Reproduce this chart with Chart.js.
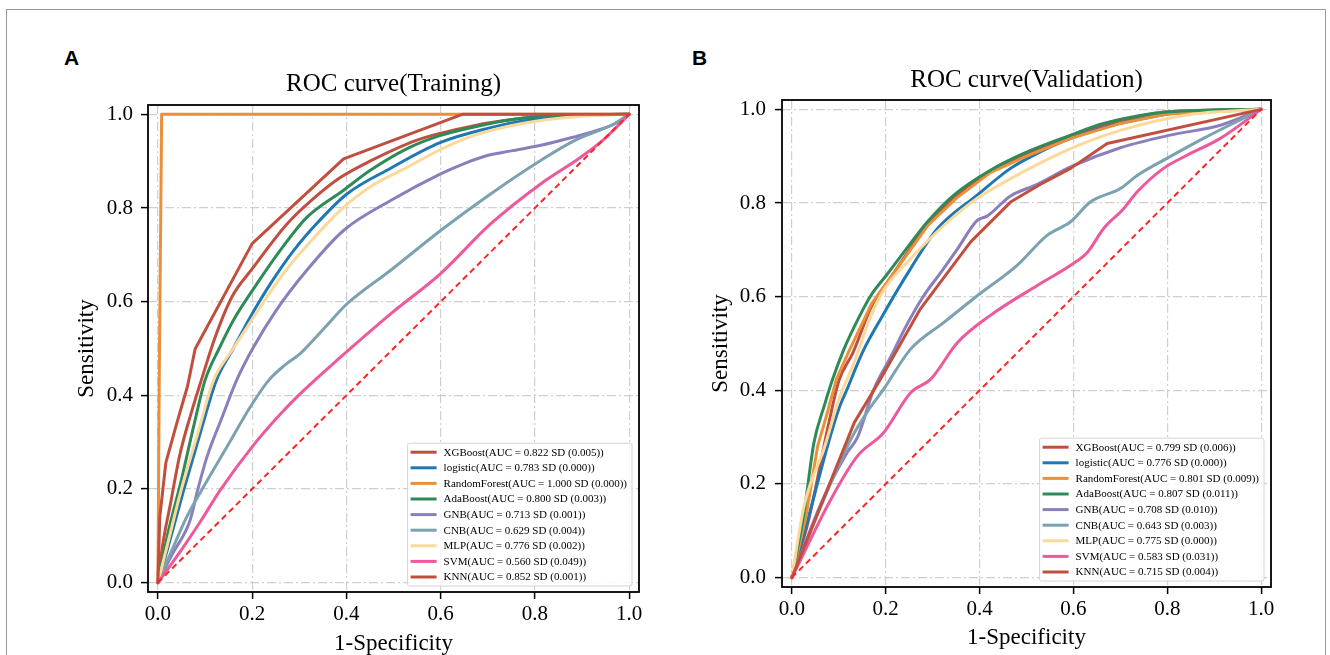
<!DOCTYPE html>
<html><head><meta charset="utf-8">
<script src="https://cdn.jsdelivr.net/npm/chart.js@4.4.1/dist/chart.umd.min.js"></script>
<style>
html,body{margin:0;padding:0;background:#fff;width:1330px;height:655px;overflow:hidden;}
#frame{position:absolute;left:6px;top:9px;width:1320px;height:720px;border:1.5px solid #9a9a9a;box-sizing:border-box;}
canvas{position:absolute;top:0;}
.tag{position:absolute;font-family:'Liberation Sans',Arial,sans-serif;font-weight:bold;font-size:21px;line-height:24px;color:#000;}
</style></head><body>
<div id="frame"></div>
<div class="tag" style="left:64px;top:46px">A</div>
<div class="tag" style="left:692px;top:46px">B</div>
<canvas id="cA" width="665" height="655" style="left:0"></canvas>
<canvas id="cB" width="665" height="655" style="left:665px"></canvas>
<script>
// ---------- data ----------
const tickValues = [0, 0.2, 0.4, 0.6, 0.8, 1.0];
const modelNames = ['XGBoost','logistic','RandomForest','AdaBoost','GNB','CNB','MLP','SVM','KNN'];
const trainAUC = [0.822, 0.783, 1.000, 0.800, 0.713, 0.629, 0.776, 0.560, 0.852];
const trainSD  = [0.005, 0.000, 0.000, 0.003, 0.001, 0.004, 0.002, 0.049, 0.001];
const valAUC   = [0.799, 0.776, 0.801, 0.807, 0.708, 0.643, 0.775, 0.583, 0.715];
const valSD    = [0.006, 0.000, 0.009, 0.011, 0.010, 0.003, 0.000, 0.031, 0.004];
const chanceLine = [[0,0],[1,1]];

// Training ROC points [1-specificity, sensitivity]
const trainXGBoost = [[0,0],[0.01,0.08],[0.026,0.165],[0.047,0.275],[0.07,0.36],[0.092,0.432],[0.12,0.52],[0.157,0.61],[0.2,0.67],[0.274,0.766],[0.33,0.82],[0.387,0.865],[0.45,0.9],[0.55,0.945],[0.671,0.976],[0.76,0.99],[0.85,0.998],[1,1]];
const trainLogistic = [[0,0],[0.02,0.07],[0.054,0.195],[0.09,0.32],[0.124,0.432],[0.16,0.5],[0.196,0.567],[0.24,0.64],[0.288,0.709],[0.34,0.77],[0.401,0.83],[0.494,0.885],[0.6,0.94],[0.7,0.97],[0.8,0.99],[0.883,0.998],[1,1]];
const trainRandomForest = [[0,0],[0.003,0.45],[0.008,1.0],[1,1]];
const trainAdaBoost = [[0,0],[0.02,0.1],[0.05,0.22],[0.075,0.33],[0.1,0.432],[0.13,0.5],[0.16,0.56],[0.21,0.638],[0.26,0.71],[0.316,0.78],[0.394,0.838],[0.45,0.88],[0.529,0.927],[0.6,0.955],[0.671,0.973],[0.76,0.99],[0.85,0.998],[1,1]];
const trainGNB = [[0,0],[0.03,0.06],[0.068,0.132],[0.085,0.2],[0.104,0.268],[0.135,0.35],[0.167,0.432],[0.203,0.503],[0.25,0.58],[0.316,0.667],[0.394,0.752],[0.494,0.816],[0.6,0.873],[0.65,0.895],[0.699,0.912],[0.75,0.922],[0.813,0.934],[0.884,0.952],[0.93,0.965],[0.969,0.98],[1,1]];
const trainCNB = [[0,0],[0.03,0.07],[0.061,0.14],[0.1,0.21],[0.146,0.289],[0.196,0.375],[0.235,0.432],[0.27,0.465],[0.302,0.489],[0.35,0.54],[0.401,0.595],[0.494,0.667],[0.6,0.752],[0.706,0.83],[0.813,0.902],[0.884,0.944],[0.969,0.98],[1,1]];
const trainMLP = [[0,0],[0.02,0.08],[0.05,0.2],[0.085,0.32],[0.118,0.432],[0.16,0.5],[0.217,0.588],[0.27,0.665],[0.33,0.735],[0.387,0.795],[0.45,0.845],[0.529,0.887],[0.6,0.925],[0.671,0.955],[0.77,0.98],[0.883,0.995],[1,1]];
const trainSVM = [[0,0],[0.05,0.07],[0.09,0.13],[0.132,0.197],[0.2,0.29],[0.26,0.36],[0.309,0.41],[0.387,0.481],[0.494,0.574],[0.6,0.66],[0.706,0.766],[0.813,0.852],[0.898,0.909],[0.95,0.95],[1,1]];
const trainKNN = [[0,0],[0.004,0.14],[0.017,0.257],[0.04,0.34],[0.063,0.42],[0.079,0.499],[0.2,0.724],[0.394,0.905],[0.646,1.0],[1,1]];

// Validation ROC points
const valXGBoost = [[0,0],[0.035,0.12],[0.076,0.317],[0.1,0.42],[0.13,0.48],[0.17,0.58],[0.21,0.64],[0.29,0.755],[0.35,0.815],[0.423,0.868],[0.5,0.905],[0.6,0.945],[0.7,0.975],[0.8,0.995],[1,1]];
const valLogistic = [[0,0],[0.04,0.146],[0.076,0.281],[0.1,0.36],[0.118,0.403],[0.15,0.48],[0.189,0.552],[0.253,0.66],[0.31,0.745],[0.395,0.817],[0.466,0.874],[0.523,0.906],[0.594,0.938],[0.7,0.97],[0.842,0.995],[1,1]];
const valRandomForest = [[0,0],[0.03,0.13],[0.055,0.281],[0.075,0.35],[0.095,0.424],[0.12,0.48],[0.17,0.585],[0.21,0.64],[0.29,0.752],[0.35,0.81],[0.423,0.865],[0.5,0.9],[0.6,0.94],[0.7,0.97],[0.8,0.99],[1,1]];
const valAdaBoost = [[0,0],[0.026,0.139],[0.047,0.288],[0.07,0.37],[0.087,0.424],[0.111,0.488],[0.14,0.55],[0.168,0.602],[0.204,0.649],[0.25,0.71],[0.289,0.76],[0.345,0.817],[0.423,0.87],[0.494,0.906],[0.594,0.945],[0.664,0.97],[0.806,0.995],[1,1]];
const valGNB = [[0,0],[0.069,0.174],[0.118,0.267],[0.14,0.3],[0.175,0.403],[0.21,0.47],[0.245,0.54],[0.281,0.602],[0.32,0.655],[0.353,0.702],[0.395,0.763],[0.416,0.772],[0.466,0.815],[0.523,0.84],[0.594,0.877],[0.7,0.918],[0.806,0.945],[0.913,0.966],[1,1]];
const valCNB = [[0,0],[0.062,0.153],[0.126,0.296],[0.16,0.353],[0.196,0.403],[0.253,0.488],[0.324,0.545],[0.395,0.602],[0.48,0.667],[0.544,0.731],[0.594,0.76],[0.636,0.802],[0.7,0.831],[0.736,0.859],[0.806,0.899],[0.877,0.938],[0.948,0.974],[1,1]];
const valMLP = [[0,0],[0.026,0.153],[0.07,0.28],[0.1,0.38],[0.133,0.46],[0.165,0.55],[0.196,0.614],[0.253,0.681],[0.324,0.752],[0.395,0.81],[0.494,0.867],[0.594,0.916],[0.7,0.955],[0.842,0.988],[1,1]];
const valSVM = [[0,0],[0.083,0.167],[0.14,0.26],[0.196,0.31],[0.253,0.395],[0.296,0.424],[0.353,0.502],[0.423,0.56],[0.523,0.624],[0.594,0.667],[0.63,0.695],[0.664,0.745],[0.707,0.788],[0.736,0.824],[0.792,0.874],[0.842,0.902],[0.913,0.938],[1,1]];
const valKNN = [[0,0],[0.133,0.331],[0.189,0.424],[0.274,0.574],[0.381,0.717],[0.466,0.802],[0.53,0.84],[0.594,0.874],[0.672,0.927],[1,1]];

// ---------- styles ----------
const COLORS = ['#c14f3f','#1f78b4','#e8913a','#2e8b57','#8a7fbd','#7ba2b0','#fbd99a','#ec5a9b','#c14f3f'];
const SMOOTH = [true, true, false, true, true, true, true, true, false];
const SERIF = "'Liberation Serif','Times New Roman',serif";

const trainSeries = [trainXGBoost,trainLogistic,trainRandomForest,trainAdaBoost,trainGNB,trainCNB,trainMLP,trainSVM,trainKNN];
const valSeries = [valXGBoost,valLogistic,valRandomForest,valAdaBoost,valGNB,valCNB,valMLP,valSVM,valKNN];

function labelsFor(auc, sd){
  return modelNames.map((m,i)=> m + '(AUC = ' + auc[i].toFixed(3) + ' SD (' + sd[i].toFixed(3) + '))');
}

const frameLegend = {
  id:'frameLegend',
  afterDraw(chart){
    const ctx = chart.ctx, ca = chart.chartArea;
    ctx.save();
    ctx.font = '11px ' + SERIF;
    const items = chart.data.datasets.filter(d=>!d.label.startsWith('_'));
    const rowH = 15.6, padX = 3, lineW = 26, gap = 7, padR = 5, padTop = 9;
    const textW = Math.max(...items.map(d=>ctx.measureText(d.label).width));
    const w = padX + lineW + gap + textW + padR;
    const h = (items.length-1)*rowH + 2*padTop;
    const x0 = ca.right - 7 - w, y0 = ca.bottom - 6 - h;
    ctx.beginPath();
    if (ctx.roundRect) ctx.roundRect(x0, y0, w, h, 2); else ctx.rect(x0,y0,w,h);
    ctx.fillStyle = 'rgba(255,255,255,0.85)';
    ctx.fill();
    ctx.lineWidth = 1; ctx.strokeStyle = '#d4d4d4'; ctx.stroke();
    items.forEach((d,i)=>{
      const cy = y0 + padTop + i*rowH;
      ctx.beginPath();
      ctx.moveTo(x0+padX, cy); ctx.lineTo(x0+padX+lineW, cy);
      ctx.lineWidth = 3; ctx.strokeStyle = d.borderColor; ctx.setLineDash([]); ctx.stroke();
      ctx.fillStyle = '#000'; ctx.textBaseline = 'middle'; ctx.textAlign = 'left';
      ctx.fillText(d.label, x0+padX+lineW+gap, cy+0.5);
    });
    ctx.lineWidth = 1.8; ctx.strokeStyle = '#000'; ctx.setLineDash([]);
    ctx.strokeRect(ca.left, ca.top, ca.right-ca.left, ca.bottom-ca.top);
    ctx.restore();
  }
};

function axis(titleText, isX, g){
  return {
    type:'linear', min: isX ? -0.021 : -0.02, max: isX ? 1.021 : 1.02,
    afterBuildTicks: s => { s.ticks = tickValues.map(v=>({value:v})); },
    afterFit: s => { if (isX) s.height = g.xh; else s.width = 78; },
    ticks:{ callback: v => Number(v).toFixed(1), font:{family:SERIF,size:21}, color:'#000',
            padding: isX ? 3 : g.yTickPad, maxRotation:0, autoSkip:false },
    grid:{ color:'#cfcfcf', lineWidth:1.2, drawTicks:true, tickLength:7, tickColor:'#000', tickWidth:1.5, tickBorderDash:[] },
    border:{ display:false, dash:[9,3,2,3] },
    title:{ display:true, text:titleText, font:{family:SERIF,size:23}, color:'#000',
            padding: isX ? {top:0,bottom:g.xtPad} : {top:g.ytPad,bottom:0} }
  };
}

function build(id, series, labels, titleText, g){
  const datasets = series.map((pts,i)=>({
    label: labels[i],
    data: pts.map(p=>({x:p[0], y:p[1]})),
    borderColor: COLORS[i], backgroundColor: COLORS[i], borderWidth: 3,
    pointRadius: 0, pointHoverRadius: 0, showLine: true, fill: false,
    cubicInterpolationMode: SMOOTH[i] ? 'monotone' : 'default', tension: 0,
    borderJoinStyle:'round', borderCapStyle:'round',
    order: 20 - i
  }));
  datasets.push({
    label:'_chance', data: chanceLine.map(p=>({x:p[0], y:p[1]})),
    borderColor:'#ff2424', borderWidth:2, borderDash:[6,4], pointRadius:0, showLine:true, fill:false, order:0
  });
  new Chart(document.getElementById(id), {
    type:'scatter',
    data:{ datasets },
    options:{
      responsive:false, animation:false, devicePixelRatio:1,
      layout:{ padding:{ left:g.pl, right:g.pr, top:0, bottom:0 } },
      scales:{ x: axis('1-Specificity', true, g), y: axis('Sensitivity', false, g) },
      plugins:{
        legend:{ display:false }, tooltip:{ enabled:false },
        title:{ display:true, text:titleText, fullSize:false, color:'#000',
                font:{family:SERIF, size:25, weight:'normal'}, padding:{top:g.tt, bottom:g.tb} }
      }
    },
    plugins:[frameLegend]
  });
}

build('cA', trainSeries, labelsFor(trainAUC, trainSD), 'ROC curve(Training)',
      {pl:70, pr:26, xh:63, xtPad:-3, ytPad:3.2, yTickPad:8, tt:69, tb:6});
build('cB', valSeries, labelsFor(valAUC, valSD), 'ROC curve(Validation)',
      {pl:39, pr:59, xh:68, xtPad:3, ytPad:3.2, yTickPad:9, tt:65, tb:5});
</script>
</body></html>
